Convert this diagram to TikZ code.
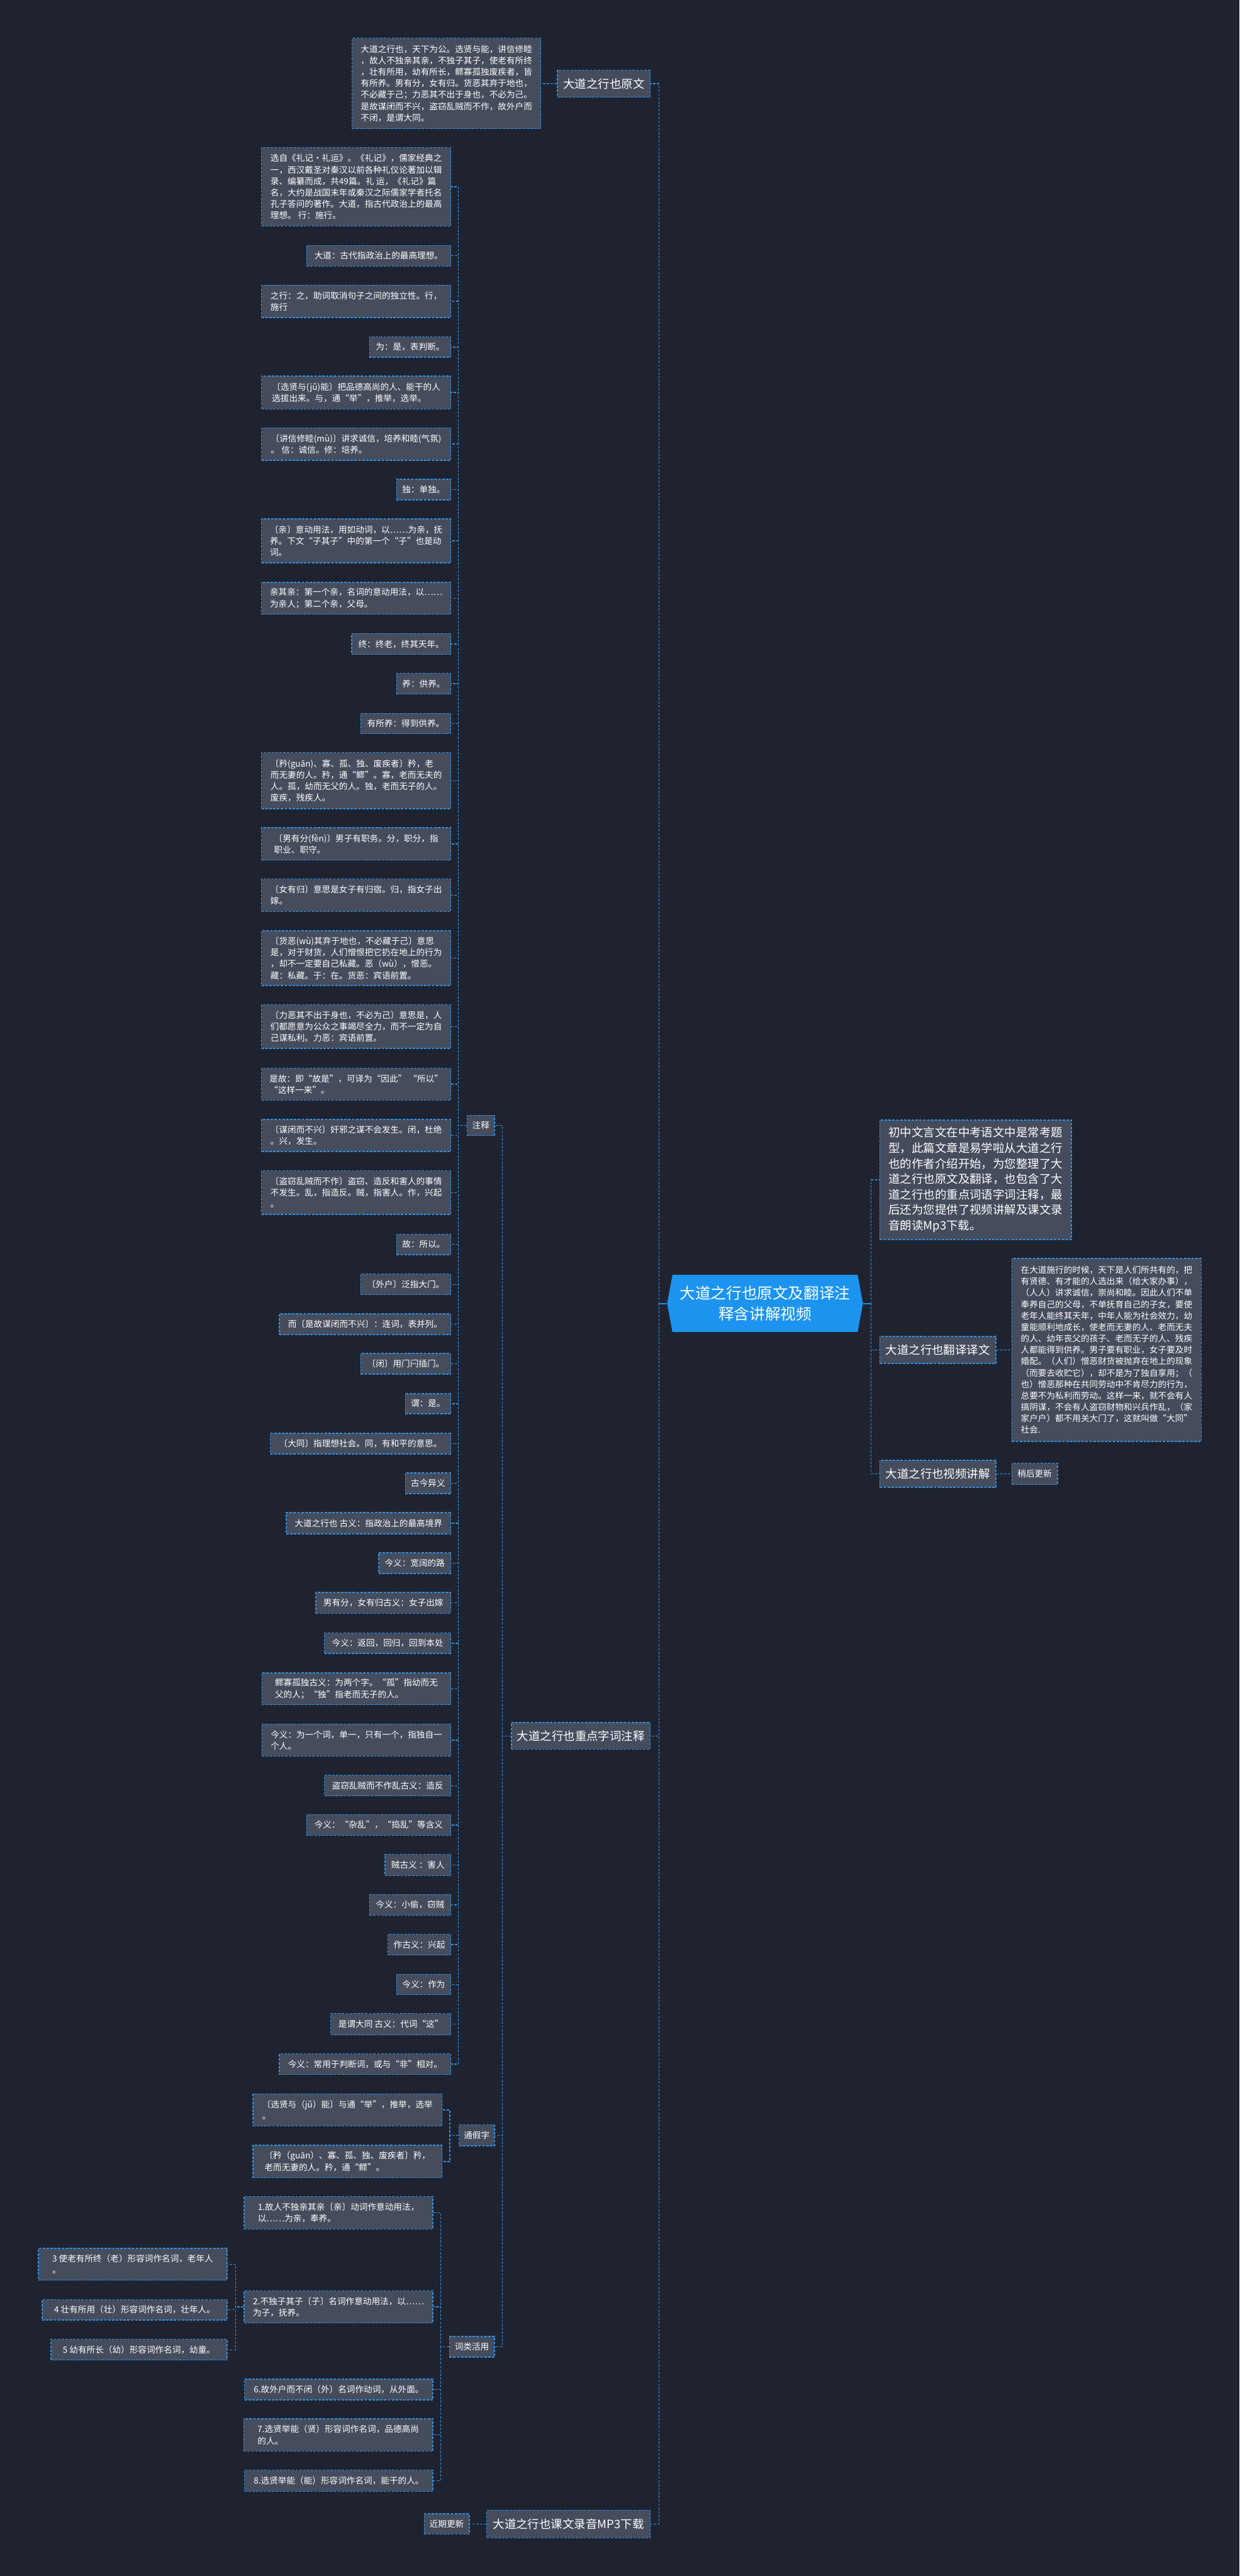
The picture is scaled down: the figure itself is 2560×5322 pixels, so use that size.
\documentclass[tikz,border=0pt]{standalone}
\usepackage{fontspec}
\setmainfont{Noto Sans CJK SC}
\definecolor{bgc}{HTML}{1F2330}
\definecolor{boxc}{HTML}{454C5C}
\definecolor{bord}{HTML}{2F93E6}
\definecolor{cblue}{HTML}{1C93EE}
\newcommand\fontNote{\fontsize{17.7pt}{23.6pt}\selectfont}
\newcommand\fontBig{\fontsize{24pt}{32pt}\selectfont}
\newcommand\fontCenter{\fontsize{32pt}{42pt}\selectfont}
\tikzset{
  box/.style={draw=bord, fill=boxc, line width=1.8pt, dash pattern=on 5pt off 3pt,
    text=white, align=left, inner xsep=8pt, inner ysep=4pt, font=\fontNote, anchor=east},
  bigbox/.style={box, font=\fontBig},
  conn/.style={draw=bord, line width=1.8pt, dash pattern=on 5pt off 3pt},
  stubline/.style={draw=cblue, line width=2.5pt},
}
% name, x(east), y(center), width, height, text
\newcommand\nb[6]{\node[box,minimum width=#4pt,minimum height=#5pt] (#1) at (#2,#3) {#6};}
\begin{document}
\begin{tikzpicture}[x=1pt,y=-1pt]
\useasboundingbox (0,0) rectangle (2560,5322);
\fill[bgc] (0,0) rectangle (2560,5322);

% ---------- centre ----------
\node[fill=cblue, text=white, align=center, font=\fontCenter, minimum width=382pt,
  minimum height=118pt, inner sep=4pt] (c) at (1580,2693) {大道之行也原文及翻译注\\释含讲解视频};
\fill[cblue] (c.north west) -- ++(-11,59) -- (c.south west) -- cycle;
\fill[cblue] (c.north east) -- ++(11,59) -- (c.south east) -- cycle;
\coordinate (cL) at ([xshift=-11pt]c.west);
\coordinate (cR) at ([xshift=11pt]c.east);

% ---------- top: original ----------
\node[bigbox,minimum width=192pt,minimum height=56pt] (lyw) at (1344,173) {大道之行也原文};
\nb{orig}{1118}{172.5}{390}{187}{大道之行也，天下为公。选贤与能，讲信修睦\\，故人不独亲其亲，不独子其子，使老有所终\\，壮有所用，幼有所长，鳏寡孤独废疾者，皆\\有所养。男有分，女有归。货恶其弃于地也，\\不必藏于己；力恶其不出于身也，不必为己。\\是故谋闭而不兴，盗窃乱贼而不作，故外户而\\不闭，是谓大同。}

% ---------- key words ----------
\node[bigbox,minimum width=287pt,minimum height=55pt] (zd) at (1344,3586.5) {大道之行也重点字词注释};
\nb{zs}{1022}{2325}{56}{42}{注释}
\nb{tjz}{1022}{4411.5}{73}{43}{通假字}
\nb{clhy}{1022}{4848.5}{93}{43}{词类活用}

\nb{n1}{932}{386}{391}{162}{选自《礼记·礼运》。《礼记》，儒家经典之\\一，西汉戴圣对秦汉以前各种礼仪论著加以辑\\录、编纂而成，共49篇。礼 运，《礼记》篇\\名，大约是战国末年或秦汉之际儒家学者托名\\孔子答问的著作。大道，指古代政治上的最高\\理想。 行：施行。}
\nb{n2}{932}{528.5}{298}{43}{大道：古代指政治上的最高理想。}
\nb{n3}{932}{622.5}{391}{67}{之行：之，助词取消句子之间的独立性。行，\\施行}
\nb{n4}{932}{717}{168}{42}{为：是，表判断。}
\nb{n5}{932}{811}{391}{68}{〔选贤与(jǔ)能〕把品德高尚的人、能干的人\\选拔出来。与，通“举”，推举，选举。}
\nb{n6}{932}{917.5}{391}{67}{〔讲信修睦(mù)〕讲求诚信，培养和睦(气氛)\\。 信：诚信。修：培养。}
\nb{n7}{932}{1011.5}{112}{43}{独：单独。}
\nb{n8}{932}{1117.5}{391}{91}{〔亲〕意动用法，用如动词，以……为亲，抚\\养。下文“子其子”中的第一个“子”也是动\\词。}
\nb{n9}{932}{1236}{391}{66}{亲其亲：第一个亲，名词的意动用法，以……\\为亲人；第二个亲，父母。}
\nb{n10}{932}{1330.5}{205}{43}{终：终老，终其天年。}
\nb{n11}{932}{1412.5}{112}{43}{养：供养。}
\nb{n12}{932}{1495}{186}{42}{有所养：得到供养。}
\nb{n13}{932}{1613}{391}{116}{〔矜(guān)、寡、孤、独、废疾者〕矜，老\\而无妻的人。矜，通“鳏”。寡，老而无夫的\\人。孤，幼而无父的人。独，老而无子的人。\\废疾，残疾人。}
\nb{n14}{932}{1743.5}{391}{67}{〔男有分(fèn)〕男子有职务。分，职分，指\\职业、职守。}
\nb{n15}{932}{1849.5}{391}{67}{〔女有归〕意思是女子有归宿。归，指女子出\\嫁。}
\nb{n16}{932}{1979.5}{391}{113}{〔货恶(wù)其弃于地也，不必藏于己〕意思\\是，对于财货，人们憎恨把它扔在地上的行为\\，却不一定要自己私藏。恶（wù），憎恶。\\藏：私藏。于：在。货恶：宾语前置。}
\nb{n17}{932}{2121}{391}{90}{〔力恶其不出于身也，不必为己〕意思是，人\\们都愿意为公众之事竭尽全力，而不一定为自\\己谋私利。力恶：宾语前置。}
\nb{n18}{932}{2240}{391}{66}{是故：即“故是”，可译为“因此” “所以”\\ “这样一来”。}
\nb{n19}{932}{2346}{391}{66}{〔谋闭而不兴〕奸邪之谋不会发生。闭，杜绝\\。兴，发生。}
\nb{n20}{932}{2464}{391}{90}{〔盗窃乱贼而不作〕盗窃、造反和害人的事情\\不发生。乱，指造反。贼，指害人。作，兴起\\。}
\nb{n21}{932}{2571}{112}{42}{故：所以。}
\nb{n22}{932}{2653.5}{186}{43}{〔外户〕泛指大门。}
\nb{n23}{932}{2735.5}{354}{43}{而〔是故谋闭而不兴〕：连词，表并列。}
\nb{n24}{932}{2817.5}{186}{43}{〔闭〕用门闩插门。}
\nb{n25}{932}{2900}{94}{42}{谓：是。}
\nb{n26}{932}{2982.5}{373}{43}{〔大同〕指理想社会。同，有和平的意思。}
\nb{n27}{932}{3064.5}{94}{43}{古今异义}
\nb{n28}{932}{3147}{340}{44}{大道之行也 古义：指政治上的最高境界}
\nb{n29}{932}{3229.5}{149}{43}{今义：宽阔的路}
\nb{n30}{932}{3311.5}{279}{43}{男有分，女有归古义：女子出嫁}
\nb{n31}{932}{3395}{261}{42}{今义：返回，回归，回到本处}
\nb{n32}{932}{3489}{390}{66}{鳏寡孤独古义：为两个字。“孤”指幼而无\\父的人；“独”指老而无子的人。}
\nb{n33}{932}{3595}{390}{66}{今义：为一个词，单一，只有一个，指独自一\\个人。}
\nb{n34}{932}{3689}{261}{43}{盗窃乱贼而不作乱古义：造反}
\nb{n35}{932}{3770.5}{298}{43}{今义：“杂乱”，“捣乱”等含义}
\nb{n36}{932}{3853}{136}{44}{贼古义 ：害人}
\nb{n37}{932}{3935.5}{168}{43}{今义：小偷，窃贼}
\nb{n38}{932}{4017.5}{130}{43}{作古义：兴起}
\nb{n39}{932}{4100}{112}{42}{今义：作为}
\nb{n40}{932}{4182}{248}{44}{是谓大同 古义：代词“这”}
\nb{n41}{932}{4264.5}{354}{43}{今义：常用于判断词，或与“非”相对。}

\nb{tj1}{914}{4359}{391}{66}{〔选贤与（jǔ）能〕与通“举”，推举，选举\\。}
\nb{tj2}{914}{4465.5}{391}{67}{〔矜（guān）、寡、孤、独、废疾者〕矜，\\老而无妻的人。矜，通“鳏”。}

\nb{c1}{895}{4571.5}{390}{67}{1.故人不独亲其亲〔亲〕动词作意动用法，\\以……为亲，奉养。}
\nb{c2}{895}{4766}{390}{66}{2.不独子其子〔子〕名词作意动用法，以……\\为子，抚养。}
\nb{c6}{895}{4936.5}{389}{43}{6.故外户而不闭（外）名词作动词，从外面。}
\nb{c7}{895}{5030.5}{391}{67}{7.选贤举能（贤）形容词作名词，品德高尚\\的人。}
\nb{c8}{895}{5125}{389}{44}{8.选贤举能（能）形容词作名词，能干的人。}
\nb{c3}{470}{4678}{390}{66}{3 使老有所终（老）形容词作名词，老年人\\。}
\nb{c4}{470}{4772}{382}{42}{4 壮有所用（壮）形容词作名词，壮年人。}
\nb{c5}{470}{4854.5}{364}{43}{5 幼有所长（幼）形容词作名词，幼童。}

% ---------- MP3 ----------
\node[bigbox,minimum width=338pt,minimum height=57pt] (mp3) at (1344,5214.5) {大道之行也课文录音MP3下载};
\nb{jq}{970}{5214.5}{93}{42}{近期更新}

% ---------- right side ----------
\node[bigbox,anchor=west,minimum width=396pt,minimum height=247pt] (intro) at (1816,2437.5) {初中文言文在中考语文中是常考题\\型，此篇文章是易学啦从大道之行\\也的作者介绍开始，为您整理了大\\道之行也原文及翻译，也包含了大\\道之行也的重点词语字词注释，最\\后还为您提供了视频讲解及课文录\\音朗读Mp3下载。};
\node[bigbox,anchor=west,minimum width=240pt,minimum height=56pt] (fy) at (1816,2789) {大道之行也翻译译文};
\node[box,anchor=west,minimum width=391pt,minimum height=378pt] (trans) at (2089,2789) {在大道施行的时候，天下是人们所共有的，把\\有贤德、有才能的人选出来（给大家办事），\\（人人）讲求诚信，崇尚和睦。因此人们不单\\奉养自己的父母，不单抚育自己的子女，要使\\老年人能终其天年，中年人能为社会效力，幼\\童能顺利地成长，使老而无妻的人、老而无夫\\的人、幼年丧父的孩子、老而无子的人、残疾\\人都能得到供养。男子要有职业，女子要及时\\婚配。（人们）憎恶财货被抛弃在地上的现象\\（而要去收贮它），却不是为了独自享用；（\\也）憎恶那种在共同劳动中不肯尽力的行为，\\总要不为私利而劳动。这样一来，就不会有人\\搞阴谋，不会有人盗窃财物和兴兵作乱，（家\\家户户）都不用关大门了，这就叫做“大同”\\社会.};
\node[bigbox,anchor=west,minimum width=240pt,minimum height=56pt] (sp) at (1816,3045) {大道之行也视频讲解};
\node[box,anchor=west,minimum width=94pt,minimum height=44pt] (sh) at (2089,3045) {稍后更新};

% ---------- connectors ----------
\foreach \k in {lyw,zd,mp3} \draw[conn] (cL) -- ++(-17,0) |- (\k.east);
\foreach \k in {intro,fy,sp} \draw[conn] (cR) -- ++(17,0) |- (\k.west);
\draw[stubline] (cL) -- ++(-17,0);
\draw[stubline] (cR) -- ++(17,0);
\draw[conn] (lyw.west) -- (orig.east);
\draw[conn] (fy.east) -- (trans.west);
\draw[conn] (sp.east) -- (sh.west);
\draw[conn] (mp3.west) -- (jq.east);
\foreach \k in {zs,tjz,clhy} \draw[conn] (zd.west) -- ++(-18,0) |- (\k.east);
\foreach \i in {1,...,41} \draw[conn] (zs.west) -- ++(-18,0) |- (n\i.east);
\foreach \k in {tj1,tj2} \draw[conn] (tjz.west) -- ++(-18,0) |- (\k.east);
\foreach \k in {c1,c2,c6,c7,c8} \draw[conn] (clhy.west) -- ++(-17,0) |- (\k.east);
\foreach \k in {c3,c4,c5} \draw[conn] (c2.west) -- ++(-17,0) |- (\k.east);
\end{tikzpicture}
\end{document}
